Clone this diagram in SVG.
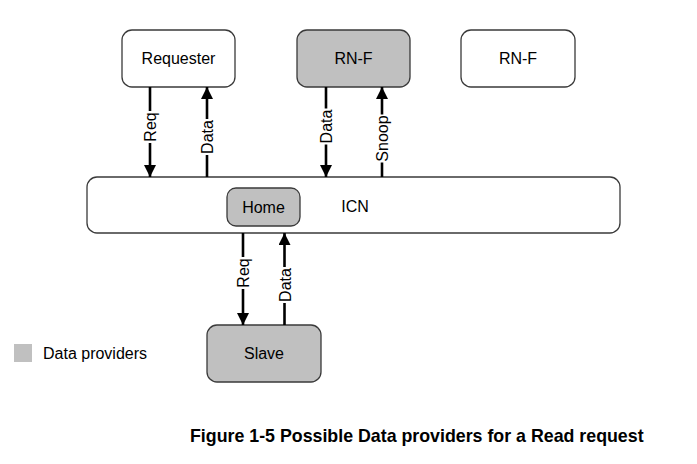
<svg xmlns="http://www.w3.org/2000/svg" width="697" height="464" viewBox="0 0 697 464">
<style>
.box{stroke:#3a3a3a;stroke-width:1.3}
.w{fill:#ffffff}
.g{fill:#c0c0c0}
text{font-family:"Liberation Sans",Arial,sans-serif;font-size:16px;fill:#000}
.c{text-anchor:middle}
.ln{stroke:#000;stroke-width:2.6;fill:none}
.lb{fill:#fff}
</style>
<defs>
<marker id="ah" viewBox="0 0 12 12" refX="12" refY="6" markerWidth="12" markerHeight="12" markerUnits="userSpaceOnUse" orient="auto">
<path d="M0,0 L12,6 L0,12 Z" fill="#000"/>
</marker>
</defs>
<rect width="697" height="464" fill="#fff"/>
<g id="icn"><rect class="box w" x="87" y="177" width="533" height="56" rx="10"/><text x="355" y="212" class="c">ICN</text></g>
<g id="requester"><rect class="box w" x="122" y="30" width="113" height="57" rx="10"/><text x="178.5" y="64" class="c">Requester</text></g>
<g id="rnf1"><rect class="box g" x="297" y="30" width="113" height="57" rx="10"/><text x="353.5" y="64" class="c">RN-F</text></g>
<g id="rnf2"><rect class="box w" x="461" y="30" width="114" height="57" rx="10"/><text x="518" y="64" class="c">RN-F</text></g>
<g id="home"><rect class="box g" x="227" y="188" width="73" height="38" rx="9"/><text x="263.5" y="212.5" class="c">Home</text></g>
<g id="slave"><rect class="box g" x="207" y="325" width="114" height="57" rx="10"/><text x="264" y="358.5" class="c">Slave</text></g>
<g id="legend"><rect x="14" y="344" width="18" height="18" fill="#c0c0c0"/><text x="43" y="358.5">Data providers</text></g>
<g id="connectors">
<line class="ln" x1="150" y1="87" x2="150" y2="177" marker-end="url(#ah)"/>
<line class="ln" x1="207" y1="177" x2="207" y2="87" marker-end="url(#ah)"/>
<line class="ln" x1="326" y1="87" x2="326" y2="177" marker-end="url(#ah)"/>
<line class="ln" x1="382" y1="177" x2="382" y2="87" marker-end="url(#ah)"/>
<line class="ln" x1="243" y1="233" x2="243" y2="325" marker-end="url(#ah)"/>
<line class="ln" x1="284.5" y1="325" x2="284.5" y2="233" marker-end="url(#ah)"/>
<g transform="translate(150,127) rotate(-90)"><rect class="lb" x="-16" y="-8" width="32" height="16"/><text class="c" y="6">Req</text></g>
<g transform="translate(207,137) rotate(-90)"><rect class="lb" x="-18" y="-8" width="36" height="16"/><text class="c" y="6">Data</text></g>
<g transform="translate(326,126.5) rotate(-90)"><rect class="lb" x="-18" y="-8" width="36" height="16"/><text class="c" y="6">Data</text></g>
<g transform="translate(382,138.5) rotate(-90)"><rect class="lb" x="-24" y="-8" width="48" height="16"/><text class="c" y="6">Snoop</text></g>
<g transform="translate(243,273) rotate(-90)"><rect class="lb" x="-16" y="-8" width="32" height="16"/><text class="c" y="6">Req</text></g>
<g transform="translate(284.5,285) rotate(-90)"><rect class="lb" x="-18" y="-8" width="36" height="16"/><text class="c" y="6">Data</text></g>
</g>
<text x="190" y="442" style="font-weight:bold;font-size:17.8px">Figure 1-5 Possible Data providers for a Read request</text>
</svg>
